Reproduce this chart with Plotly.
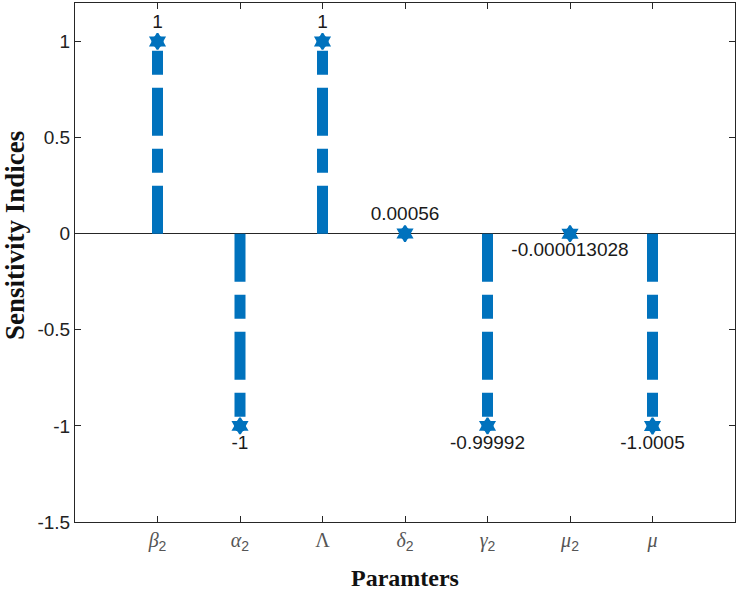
import plotly.graph_objects as go

# ---- data ----
categories = ["beta2", "alpha2", "Lambda", "delta2", "gamma2", "mu2", "mu"]
SUB2 = "<sub><span style='font-family:Arial, Liberation Sans'>2</span></sub>"
tick_labels = [
    "<i>β</i>" + SUB2,
    "<i>α</i>" + SUB2,
    "Λ",
    "<i>δ</i>" + SUB2,
    "<i>γ</i>" + SUB2,
    "<i>μ</i>" + SUB2,
    "<i>μ</i>",
]
positions = [1, 2, 3, 4, 5, 6, 7]
values = [1, -1, 1, 0.00056, -0.99992, -0.000013028, -1.0005]
value_labels = ["1", "-1", "1", "0.00056", "-0.99992", "-0.000013028", "-1.0005"]
y_ticks = [-1.5, -1, -0.5, 0, 0.5, 1]
y_tick_text = ["-1.5", "-1", "-0.5", "0", "0.5", "1"]

BLUE = "#0072BD"
AXC = "#262626"

fig = go.Figure()

# stems
for x, v in zip(positions, values):
    fig.add_trace(go.Scatter(
        x=[x, x], y=[0, v], mode="lines",
        line=dict(color=BLUE, width=11, dash="48px,13px,24px,13px"),
        hoverinfo="skip", showlegend=False,
    ))

# marker body (rounded) under the hexagram points
fig.add_trace(go.Scatter(
    x=positions, y=values, mode="markers",
    marker=dict(symbol="circle", size=12, color=BLUE, line=dict(width=0)),
    hoverinfo="skip", showlegend=False,
))

# markers + value labels
text_pos = ["top center" if v > 0.0001 else "bottom center" for v in values]
fig.add_trace(go.Scatter(
    x=positions, y=values, mode="markers+text",
    marker=dict(symbol="hexagram", size=12, color=BLUE, line=dict(width=2, color=BLUE)),
    text=value_labels, textposition=text_pos,
    textfont=dict(family="Arial, Liberation Sans", size=19, color="#1a1a1a"),
    showlegend=False,
))

fig.update_layout(
    width=739, height=593,
    margin=dict(l=75, r=4, t=3, b=71),
    plot_bgcolor="white", paper_bgcolor="white",
    font=dict(family="Arial, Liberation Sans", color=AXC),
    annotations=[
        dict(text="<b>Paramters</b>", xref="paper", yref="paper", x=0.5, y=-0.108,
             xanchor="center", yanchor="middle", showarrow=False,
             font=dict(family="Liberation Serif, Times New Roman", size=24, color="#111111")),
        dict(text="<b>Sensitivity Indices</b>", xref="paper", yref="paper",
             x=-0.091, y=0.553, xanchor="center", yanchor="middle", textangle=-90,
             showarrow=False,
             font=dict(family="Liberation Serif, Times New Roman", size=27, color="#111111")),
    ],
)
fig.update_xaxes(
    range=[0, 8], tickvals=positions, ticktext=tick_labels, automargin=False,
    tickfont=dict(family="Liberation Serif, Times New Roman", size=20, color="#555555"),
    ticks="inside", ticklen=6, tickcolor=AXC, showgrid=False, zeroline=False,
    showline=True, linecolor=AXC, linewidth=1, mirror="allticks",
)
fig.update_yaxes(
    range=[-1.5, 1.2], tickvals=y_ticks, ticktext=y_tick_text, automargin=False,
    tickfont=dict(family="Arial, Liberation Sans", size=19, color="#222222"),
    ticks="inside", ticklen=6, tickcolor=AXC, showgrid=False,
    zeroline=True, zerolinecolor=AXC, zerolinewidth=1,
    showline=True, linecolor=AXC, linewidth=1, mirror="allticks",
)

fig.write_html("out.html", config={"displayModeBar": False},
               post_script="document.body.style.margin='0';document.body.style.overflow='hidden';")
